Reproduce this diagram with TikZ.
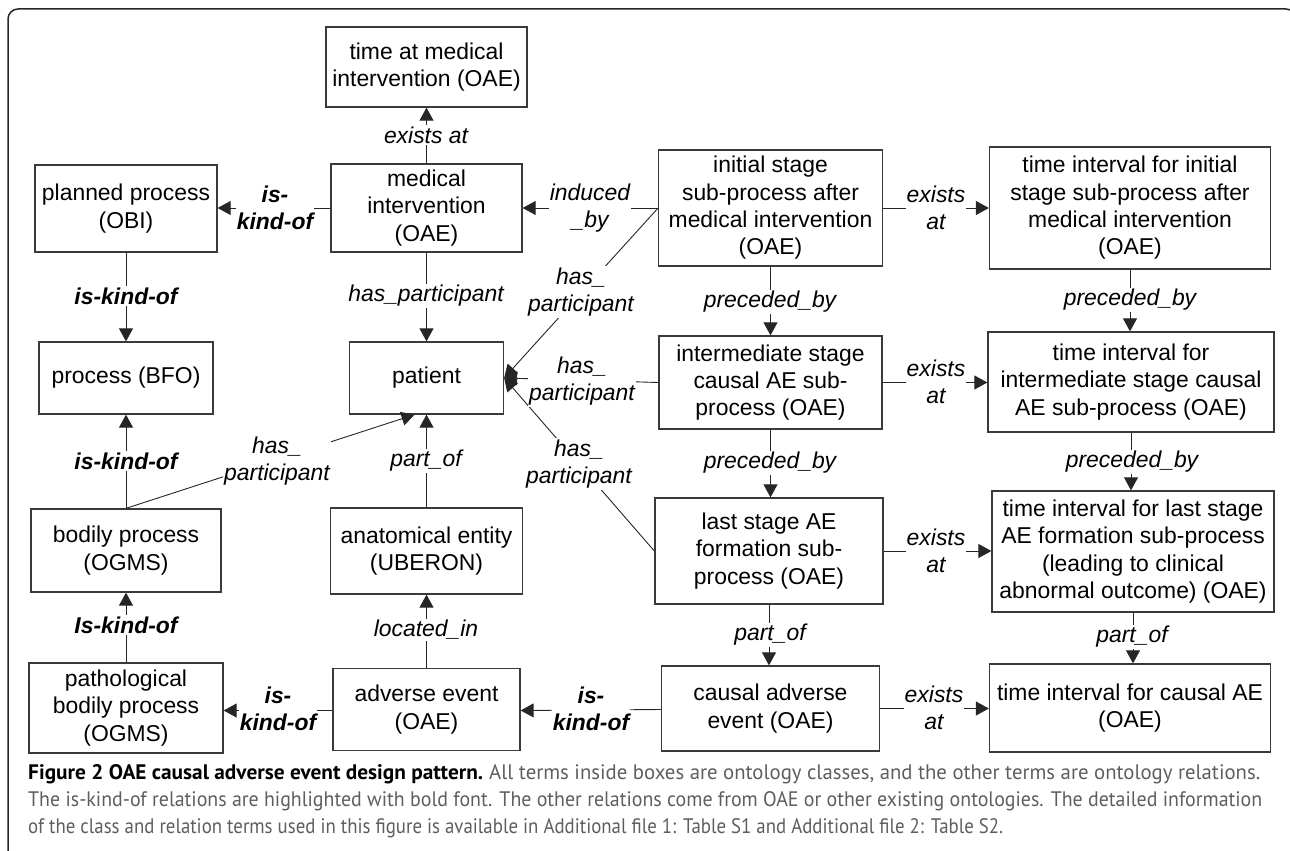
\documentclass[tikz,border=0pt]{standalone}
\usepackage{fontspec}
\setmainfont{Liberation Sans}
\newfontfamily\capfont{PT Sans}
\usetikzlibrary{arrows.meta,calc}
\definecolor{boxline}{HTML}{3A3A3A}
\definecolor{capgray}{HTML}{5E5E5E}
\tikzset{
  box/.style={draw=boxline, line width=1.3pt, align=center, inner sep=0pt,
    font=\fontsize{22.9}{27.3}\selectfont, text=black},
  lbl/.style={fill=white, inner sep=1.2pt, align=center,
    font=\fontsize{22.9}{27.3}\selectfont\itshape},
  blbl/.style={lbl, font=\fontsize{22.9}{27.3}\selectfont\bfseries\itshape},
  conn/.style={draw=black!85, line width=0.9pt, -{Triangle[length=13pt,width=14pt]}},
  capline/.style={anchor=west, inner sep=0pt, font=\capfont\fontsize{21}{24}\selectfont, text=capgray}
}
\begin{document}
\begin{tikzpicture}[x=1pt,y=-1pt]
\useasboundingbox (0,0) rectangle (1290,851);
\draw[line width=1.5pt, black!85, rounded corners=10pt] (8,870) -- (8,9) -- (1296,9) -- (1296,870);

% column 1
\node[box, minimum width=182pt, minimum height=87pt] (planned) at (126,208.5) {planned process\\(OBI)};
\node[box, minimum width=174pt, minimum height=72pt] (process) at (126,378) {process (BFO)};
\node[box, minimum width=190pt, minimum height=83pt] (bodily) at (126,550.5) {bodily process\\(OGMS)};
\node[box, minimum width=194pt, minimum height=90pt] (patho) at (126,708) {pathological\\bodily process\\(OGMS)};
% column 2
\node[box, minimum width=201pt, minimum height=80pt] (timeat) at (426.5,67) {time at medical\\intervention (OAE)};
\node[box, minimum width=191pt, minimum height=88pt] (medint) at (426.5,208) {medical\\intervention\\(OAE)};
\node[box, minimum width=154pt, minimum height=72pt] (patient) at (426.5,378) {patient};
\node[box, minimum width=192pt, minimum height=86pt] (anat) at (426.5,551) {anatomical entity\\(UBERON)};
\node[box, minimum width=187pt, minimum height=82pt] (adverse) at (426.5,709.5) {adverse event\\(OAE)};
% column 3
\node[box, minimum width=223.5pt, minimum height=116pt] (initial) at (770.5,208) {initial stage\\sub-process after\\medical intervention\\(OAE)};
\node[box, minimum width=223pt, minimum height=93pt] (inter) at (770.5,382.5) {intermediate stage\\causal AE sub-\\process (OAE)};
\node[box, minimum width=228pt, minimum height=106pt] (last) at (769,551) {last stage AE\\formation sub-\\process (OAE)};
\node[box, minimum width=218pt, minimum height=85pt] (causal) at (770.5,708.5) {causal adverse\\event (OAE)};
% column 4
\node[box, minimum width=281pt, minimum height=122pt] (timeinit) at (1130,208) {time interval for initial\\stage sub-process after\\medical intervention\\(OAE)};
\node[box, minimum width=286pt, minimum height=100pt] (timeinter) at (1131,382) {time interval for\\intermediate stage causal\\AE sub-process (OAE)};
\node[box, minimum width=282pt, minimum height=121pt] (timelast) at (1133,551.5) {time interval for last stage\\AE formation sub-process\\(leading to clinical\\abnormal outcome) (OAE)};
\node[box, minimum width=281pt, minimum height=88pt] (timecausal) at (1130,708) {time interval for causal AE\\(OAE)};

% connectors
\draw[conn] (medint.north) -- (timeat.south);
\draw[conn] (medint.west) -- (medint.west -| planned.east);
\draw[conn] (initial.west) -- (medint.east);
\draw[conn] (planned.south) -- (process.north);
\draw[conn] (medint.south) -- (patient.north);
\draw[conn] (initial.west) -- (patient.east);
\draw[conn] (inter.west) -- (patient.east);
\draw[conn] (last.west) -- (patient.east);
\draw[conn] (bodily.north) -- ([xshift=-12pt]patient.south);
\draw[conn] (bodily.north) -- (process.south);
\draw[conn] (anat.north) -- (patient.south);
\draw[conn] (patho.north) -- (bodily.south);
\draw[conn] (adverse.north) -- (anat.south);
\draw[conn] ([yshift=-1pt]adverse.west) -- ([yshift=-1pt]adverse.west -| patho.east);
\draw[conn] (causal.west |- adverse.west) -- ([yshift=-1pt]adverse.east);
\draw[conn] (initial.south) -- (initial.south |- inter.north);
\draw[conn] (inter.south) -- (inter.south |- last.north);
\draw[conn] (last.south) -- (last.south |- causal.north);
\draw[conn] (timeinit.south) -- (timeinit.south |- timeinter.north);
\draw[conn] (timeinter.south) -- (timeinter.south |- timelast.north);
\draw[conn] (timelast.south) -- (timelast.south |- timecausal.north);
\draw[conn] (initial.east) -- (initial.east -| timeinit.west);
\draw[conn] (inter.east) -- (inter.east -| timeinter.west);
\draw[conn] (last.east) -- (last.east -| timelast.west);
\draw[conn] (causal.east) -- (causal.east -| timecausal.west);

% labels
\node[lbl] (la) at (426,135) {exists at};
\node[blbl] (lb) at (275,208) {is-\\kind-of};
\node[lbl] (lc) at (590,208) {induced\\\_by};
\node[blbl] (ld) at (126,296) {is-kind-of};
\node[lbl] (le) at (426,296) {has\_participant};
\node[lbl] (lf) at (581,292) {has\_\\participant};
\node[lbl] (lg) at (582,381) {has\_\\participant};
\node[lbl] (lh) at (579,464) {has\_\\participant};
\node[lbl] (li) at (277,461) {has\_\\participant};
\node[blbl] (lj) at (126,461) {is-kind-of};
\node[lbl] (lk) at (426,461) {part\_of};
\node[blbl] (ll) at (126,625) {Is-kind-of};
\node[lbl] (lm) at (426,630) {located\_in};
\node[blbl] (ln) at (278,709) {is-\\kind-of};
\node[blbl] (lo) at (591,709) {is-\\kind-of};
\node[lbl] (lp) at (770,302) {preceded\_by};
\node[lbl] (lq) at (770,463) {preceded\_by};
\node[lbl] (lr) at (770,635) {part\_of};
\node[lbl] (ls) at (1130,300) {preceded\_by};
\node[lbl] (lt) at (1132,462) {preceded\_by};
\node[lbl] (lu) at (1132,637) {part\_of};
\node[lbl] (lv) at (936,208) {exists\\at};
\node[lbl] (lw) at (936,382) {exists\\at};
\node[lbl] (lx) at (936,551) {exists\\at};
\node[lbl] (ly) at (934,708) {exists\\at};

% caption
\node[capline] (cap1) at (28,774) {\resizebox{455pt}{\height}{\color{black}\bfseries Figure 2 OAE causal adverse event design pattern.}\hspace{6pt}\resizebox{771pt}{\height}{All terms inside boxes are ontology classes, and the other terms are ontology relations.}};
\node[capline] (cap2) at (28,801) {\resizebox{1234pt}{\height}{The is-kind-of relations are highlighted with bold font. The other relations come from OAE or other existing ontologies. The detailed information}};
\node[capline] (cap3) at (28,828) {\resizebox{975pt}{\height}{of the class and relation terms used in this figure is available in Additional file 1: Table S1 and Additional file 2: Table S2.}};
\end{tikzpicture}
\end{document}
